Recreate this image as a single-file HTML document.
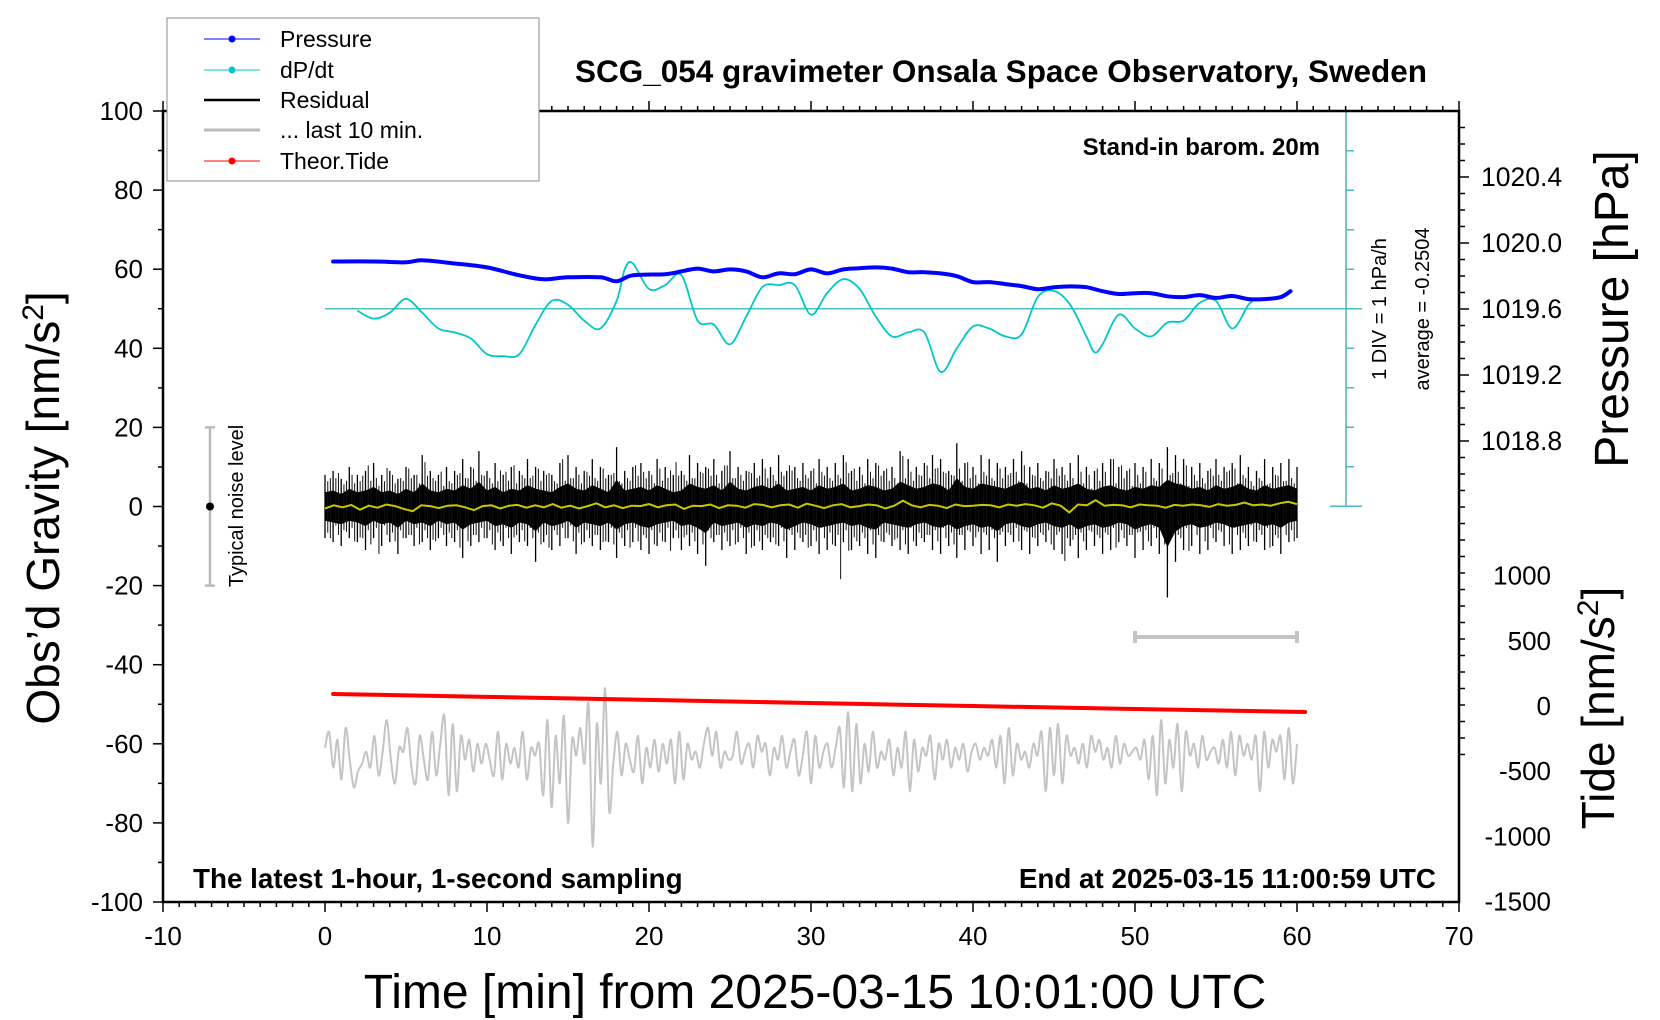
<!DOCTYPE html>
<html><head><meta charset="utf-8"><style>
html,body{margin:0;padding:0;background:#fff;}
svg{display:block;font-family:"Liberation Sans",sans-serif;}
</style></head><body>
<svg id="chart" width="1660" height="1020" viewBox="0 0 1660 1020">
<g id="marks"></g>
<g id="axes"></g>
<g id="labels">
<text x="1001" y="82" font-size="31.5" font-weight="bold" text-anchor="middle">SCG_054 gravimeter Onsala Space Observatory, Sweden</text>
<text x="1320" y="155" font-size="24" font-weight="bold" text-anchor="end">Stand-in barom. 20m</text>
<text x="193" y="888" font-size="27.8" font-weight="bold">The latest 1-hour, 1-second sampling</text>
<text x="1436" y="888" font-size="27.8" font-weight="bold" text-anchor="end">End at 2025-03-15 11:00:59 UTC</text>
<text x="815" y="1008" font-size="48" text-anchor="middle">Time [min] from 2025-03-15 10:01:00 UTC</text>
<text transform="translate(59,508) rotate(-90)" font-size="46" text-anchor="middle">Obs’d Gravity [nm/s<tspan dy="-16" font-size="30">2</tspan><tspan dy="16">]</tspan></text>
<text transform="translate(1628,309) rotate(-90)" font-size="48" text-anchor="middle">Pressure [hPa]</text>
<text transform="translate(1614,708) rotate(-90)" font-size="46" text-anchor="middle">Tide [nm/s<tspan dy="-16" font-size="30">2</tspan><tspan dy="16">]</tspan></text>
<text transform="translate(1386,309) rotate(-90)" font-size="20" text-anchor="middle">1 DIV = 1 hPa/h</text>
<text transform="translate(1429,309) rotate(-90)" font-size="20" text-anchor="middle">average = -0.2504</text>
<text transform="translate(243,506) rotate(-90)" font-size="20" text-anchor="middle">Typical noise level</text>
</g>
<g id="legend">
<rect x="167" y="18" width="372" height="163" fill="#fff" stroke="#888" stroke-width="1"/>
<g><line x1="204" y1="39" x2="260" y2="39" stroke="#0000ff" stroke-width="1"/><circle cx="232" cy="39" r="3.5" fill="#0000ff"/><text x="280" y="47" font-size="23">Pressure</text></g>
<g><line x1="204" y1="70" x2="260" y2="70" stroke="#00c8c8" stroke-width="1"/><circle cx="232" cy="70" r="3.5" fill="#00c8c8"/><text x="280" y="78" font-size="23">dP/dt</text></g>
<g><line x1="204" y1="100" x2="260" y2="100" stroke="#000" stroke-width="2.5"/><text x="280" y="108" font-size="23">Residual</text></g>
<g><line x1="204" y1="130" x2="260" y2="130" stroke="#bbb" stroke-width="3"/><text x="280" y="138" font-size="23">... last 10 min.</text></g>
<g><line x1="204" y1="161" x2="260" y2="161" stroke="#ff0000" stroke-width="1"/><circle cx="232" cy="161" r="3.5" fill="#ff0000"/><text x="280" y="169" font-size="23">Theor.Tide</text></g>
</g>
</svg>
<script>
// ---- data ----
const xTicks = [-10,0,10,20,30,40,50,60,70];
const yTicks = [100,80,60,40,20,0,-20,-40,-60,-80,-100];
const pTicks = ["1020.4","1020.0","1019.6","1019.2","1018.8"];
const tideTicks = [1000,500,0,-500,-1000,-1500];
const pressureT = [0.5,3,5,6,8,10,12,13.5,15,17,18,19,21,22,23,24,25,26,27,28,29,30,31,32,33,34,35,36,37,38,39,40,41,42,43,44,45,46,47,48,49,50,51,52,53,54,55,56,57,58,59,59.6];
const pressureV = [1019.888,1019.888,1019.883,1019.895,1019.876,1019.852,1019.804,1019.78,1019.792,1019.792,1019.768,1019.804,1019.811,1019.828,1019.845,1019.828,1019.84,1019.828,1019.792,1019.816,1019.811,1019.84,1019.816,1019.84,1019.847,1019.852,1019.845,1019.823,1019.823,1019.816,1019.799,1019.763,1019.763,1019.751,1019.739,1019.72,1019.732,1019.737,1019.732,1019.708,1019.691,1019.696,1019.696,1019.677,1019.672,1019.684,1019.667,1019.679,1019.66,1019.66,1019.672,1019.708];
const dpdtT = [2,3,4,5,6,7,8,9,10,11,12,13,14,15,16,17,18,18.5,19,20,21,22,23,24,25,26,27,28,29,30,31,32,33,34,35,36,37,38,39,40,41,42,43,44,45,46,47,47.5,48,49,50,51,52,53,54,55,56,57,57.5];
const dpdtV = [-0.05,-0.25,-0.1,0.25,-0.1,-0.5,-0.6,-0.75,-1.15,-1.2,-1.15,-0.4,0.2,0.1,-0.3,-0.5,0.2,1.0,1.15,0.5,0.6,0.85,-0.3,-0.4,-0.9,-0.2,0.55,0.6,0.6,-0.15,0.4,0.75,0.5,-0.2,-0.7,-0.6,-0.6,-1.6,-1.0,-0.45,-0.5,-0.7,-0.65,0.3,0.45,0.1,-0.7,-1.1,-0.9,-0.15,-0.5,-0.7,-0.35,-0.3,0.15,0.2,-0.5,0.1,0.25];
const residHi = [8,9,7,10,8,9,11,8,9,7,10,8,13,9,8,10,9,12,10,14,9,11,8,10,9,12,10,9,8,11,13,10,9,12,10,8,15,9,10,11,9,12,10,8,9,13,11,10,12,9,14,10,9,11,12,10,13,9,10,11,9,12,10,11,13,9,10,12,11,9,10,14,12,10,11,13,12,9,16,11,10,13,12,11,10,12,14,10,11,9,12,10,11,13,10,9,11,12,10,9,11,10,12,11,15,13,12,10,11,9,12,10,11,13,10,9,12,10,11,12,10];
const residLo = [-8,-9,-10,-8,-9,-11,-8,-10,-9,-12,-8,-10,-9,-11,-8,-10,-9,-13,-10,-9,-8,-11,-10,-12,-9,-10,-14,-9,-11,-10,-8,-12,-9,-10,-11,-9,-13,-10,-9,-11,-12,-10,-9,-8,-11,-10,-12,-15,-9,-11,-10,-9,-12,-10,-11,-9,-10,-13,-11,-9,-10,-12,-11,-10,-9,-11,-10,-12,-13,-9,-10,-11,-12,-10,-9,-11,-12,-10,-13,-11,-10,-12,-11,-14,-10,-9,-11,-12,-10,-9,-11,-12,-10,-13,-11,-10,-12,-11,-9,-10,-13,-11,-10,-12,-23,-14,-11,-10,-12,-11,-9,-10,-12,-11,-10,-9,-11,-10,-12,-9,-8];
const smoothV = [-0.5,0.3,-0.2,0.4,-0.8,0.2,-0.3,0.5,0.1,-0.6,-1.2,0.3,0.1,-0.4,0.2,0.3,-0.2,-0.9,0.1,0.3,-0.5,0.2,0.4,-0.3,0.3,-0.2,0.6,-0.3,0.2,-0.5,0.1,0.8,-0.2,0.3,-0.4,0.2,0.1,0.6,-0.2,0.3,0.5,-0.6,0.2,0.1,0.5,-0.4,0.3,0.2,-0.3,0.6,0.4,-0.2,0.3,0.5,-0.3,0.7,0.2,-0.4,0.3,0.6,-0.2,0.1,0.5,0.3,-0.5,0.2,1.5,0.3,-0.2,0.4,0.2,-0.4,0.5,0.1,0.2,0.4,0.3,-0.2,0.5,0.2,0.6,0.3,-0.3,0.8,0.2,-1.5,0.5,0.3,1.6,0.2,0.4,0.3,-0.2,0.5,0.3,0.2,-0.3,0.4,0.2,0.5,0.3,-0.1,0.6,0.2,0.4,1.0,0.3,0.5,0.2,0.8,1.2,0.6];
const last10V = [-61,-57,-66,-59,-69,-56,-64,-71,-67,-65,-62,-66,-58,-68,-62,-54,-64,-70,-61,-62,-56,-66,-70,-58,-64,-69,-57,-68,-60,-53,-73,-55,-72,-58,-64,-59,-67,-60,-65,-60,-64,-68,-57,-69,-60,-65,-61,-66,-57,-69,-61,-63,-60,-73,-54,-76,-58,-70,-53,-80,-59,-63,-56,-65,-50,-86,-55,-70,-46,-77,-65,-57,-68,-60,-64,-67,-58,-70,-61,-66,-59,-67,-60,-65,-59,-70,-57,-69,-60,-64,-62,-66,-60,-56,-63,-57,-66,-62,-64,-63,-57,-65,-62,-60,-66,-58,-62,-60,-68,-61,-64,-58,-66,-62,-59,-68,-63,-57,-70,-58,-66,-62,-60,-66,-61,-56,-71,-52,-72,-55,-70,-60,-67,-57,-66,-62,-64,-59,-68,-61,-66,-57,-72,-59,-67,-61,-63,-58,-69,-60,-64,-59,-66,-61,-64,-60,-67,-62,-60,-64,-61,-63,-59,-66,-58,-70,-56,-68,-60,-64,-62,-66,-60,-63,-57,-72,-56,-68,-55,-70,-58,-63,-61,-65,-60,-66,-58,-62,-59,-64,-61,-66,-58,-65,-60,-63,-62,-61,-64,-59,-69,-58,-73,-54,-70,-59,-66,-55,-72,-57,-63,-60,-66,-58,-64,-62,-61,-65,-59,-66,-57,-68,-58,-63,-60,-64,-58,-72,-57,-66,-59,-62,-58,-69,-56,-70,-60];
const tideT = [0.5,10,20,30,40,50,60.5];
const tideV = [92,70,47,23,0,-23,-46];

// ---- scales ----
const X0=163, X1=1459, Y0=111, Y1=902;
const xs = t => X0 + (t+10)*(X1-X0)/80;
const ys = g => Y0 + (100-g)*(Y1-Y0)/200;
const ps = p => 177 + (1020.4-p)*165;
const dps = d => ys(50) - d*39.5;
const ts = v => 706 - v*0.1304;
const CX = 1346;

const NS="http://www.w3.org/2000/svg";
const marks=document.getElementById('marks');
const axes=document.getElementById('axes');
function mk(tag,attrs,parent){const e=document.createElementNS(NS,tag);for(const k in attrs)e.setAttribute(k,attrs[k]);(parent||marks).appendChild(e);return e;}
function smooth(pts){
  let d='M'+pts[0][0].toFixed(1)+' '+pts[0][1].toFixed(1);
  for(let i=0;i<pts.length-1;i++){
    const p0=pts[Math.max(0,i-1)],p1=pts[i],p2=pts[i+1],p3=pts[Math.min(pts.length-1,i+2)];
    const c1x=p1[0]+(p2[0]-p0[0])/6,c1y=p1[1]+(p2[1]-p0[1])/6;
    const c2x=p2[0]-(p3[0]-p1[0])/6,c2y=p2[1]-(p3[1]-p1[1])/6;
    d+='C'+c1x.toFixed(1)+' '+c1y.toFixed(1)+' '+c2x.toFixed(1)+' '+c2y.toFixed(1)+' '+p2[0].toFixed(1)+' '+p2[1].toFixed(1);
  }
  return d;
}

// dP/dt reference line and axis
let el=mk('line',{x1:xs(0),y1:dps(0),x2:CX+16,y2:dps(0),stroke:'#4cc0c0','stroke-width':1.5});


el=mk('line',{x1:CX,y1:Y0,x2:CX,y2:ys(0),stroke:'#4cb8b8','stroke-width':1.5});


for(let k=-5;k<=5;k++){
  const end=(k===-5||k===5);
  el=mk('line',{x1:CX-(end?16:0),y1:dps(k),x2:CX+(end?16:8),y2:dps(k),stroke:'#4cb8b8','stroke-width':1.5});
  
  
}

// grey last 10 min
el=mk('path',{d:smooth(last10V.map((v,i)=>[xs(i*60/(last10V.length-1)),ys(v)])),fill:'none',stroke:'#c4c4c4','stroke-width':2});



// residual core band + spikes
const rg=mk('g',{});


let up='',dn='';
residHi.forEach((v,i)=>{const t=i*60/(residHi.length-1);up+=(i?'L':'M')+xs(t).toFixed(1)+' '+ys(v*0.45).toFixed(1);});
for(let i=residLo.length-1;i>=0;i--){const t=i*60/(residLo.length-1);dn+='L'+xs(t).toFixed(1)+' '+ys(residLo[i]*0.45).toFixed(1);}
mk('path',{d:up+dn+'Z',fill:'#000'},rg);
const nH=residHi.length;
residHi.forEach((v,i)=>{
  const t=i*60/(nH-1);
  const lo=residLo[Math.min(i,residLo.length-1)];
  const vn=residHi[(i+7)%nH], ln=residLo[(i+13)%residLo.length];
  mk('line',{x1:xs(t),y1:ys(v),x2:xs(t),y2:ys(lo),stroke:'#000','stroke-width':1.3},rg);
  const t2=t+0.17; if(t2<=60){mk('line',{x1:xs(t2),y1:ys(vn*0.8),x2:xs(t2),y2:ys(ln*0.6),stroke:'#111','stroke-width':1},rg);}
  const t3=t+0.33; if(t3<=60){mk('line',{x1:xs(t3),y1:ys(residHi[(i+29)%nH]*0.65),x2:xs(t3),y2:ys(residLo[(i+41)%residLo.length]*0.8),stroke:'#111','stroke-width':1},rg);}
});
// smoothed
let d='';
smoothV.forEach((v,i)=>{const t=i*60/(smoothV.length-1);d+=(i?'L':'M')+xs(t).toFixed(1)+' '+ys(v).toFixed(1);});
el=mk('path',{d:d,fill:'none',stroke:'#c8c800','stroke-width':2});



// dP/dt curve
el=mk('path',{d:smooth(dpdtT.map((t,i)=>[xs(t),dps(dpdtV[i])])),fill:'none',stroke:'#00c8c8','stroke-width':1.8,'stroke-linejoin':'round'});



// pressure
el=mk('path',{d:smooth(pressureT.map((t,i)=>[xs(t),ps(pressureV[i])])),fill:'none',stroke:'#0000ff','stroke-width':4,'stroke-linejoin':'round','stroke-linecap':'round'});



// tide
d='';
tideT.forEach((t,i)=>{d+=(i?'L':'M')+xs(t).toFixed(1)+' '+ts(tideV[i]).toFixed(1);});
el=mk('path',{d:d,fill:'none',stroke:'#ff0000','stroke-width':4,'stroke-linecap':'round'});



// 10-min scale bar
el=mk('path',{d:`M${xs(50)} ${ys(-33)}L${xs(60)} ${ys(-33)}M${xs(50)} ${ys(-33)-6}V${ys(-33)+6}M${xs(60)} ${ys(-33)-6}V${ys(-33)+6}`,stroke:'#c4c4c4','stroke-width':4,fill:'none'});


// noise level bar
el=mk('path',{d:`M${xs(-7.1)} ${ys(20)}V${ys(-20)}M${xs(-7.1)-5} ${ys(20)}h10M${xs(-7.1)-5} ${ys(-20)}h10`,stroke:'#bbb','stroke-width':2.5,fill:'none'});


el=mk('circle',{cx:xs(-7.1),cy:ys(0),r:4,fill:'#000'});



// ---- axes ----
el=mk('rect',{x:X0,y:Y0,width:X1-X0,height:Y1-Y0,fill:'none',stroke:'#000','stroke-width':2.5},axes);


for(let t=-10;t<=70;t++){
  const major=(t%10===0), L=major?10:5;
  mk('line',{x1:xs(t),y1:Y1,x2:xs(t),y2:Y1+L,stroke:'#000','stroke-width':1.5},axes);
  mk('line',{x1:xs(t),y1:Y0,x2:xs(t),y2:Y0-L,stroke:'#000','stroke-width':1.5},axes);
}
xTicks.forEach(t=>{el=mk('text',{x:xs(t),y:945,'font-size':26,'text-anchor':'middle'},axes);el.textContent=t;

});
for(let g=-100;g<=100;g+=10){
  const L=(g%20===0)?10:5;
  mk('line',{x1:X0,y1:ys(g),x2:X0-L,y2:ys(g),stroke:'#000','stroke-width':1.5},axes);
}
yTicks.forEach(g=>{el=mk('text',{x:143,y:ys(g)+9,'font-size':26,'text-anchor':'end'},axes);el.textContent=g;

});
// right pressure ticks
for(let k=-3;k<=38;k++){
  const y=ps(1020.7-0.1*k);
  if(y<Y0||y>Y1)continue;
  const major=((k-3)%4===0)&&k>=3&&k<=19;
  mk('line',{x1:X1,y1:y,x2:X1+(major?10:6),y2:y,stroke:'#000','stroke-width':1.5},axes);
}
pTicks.forEach(p=>{el=mk('text',{x:1481,y:ps(parseFloat(p))+9,'font-size':26.5},axes);el.textContent=p;

});
tideTicks.forEach(v=>{el=mk('text',{x:1551,y:ts(v)+9,'font-size':26},axes);el.setAttribute('text-anchor','end');el.textContent=v;

});
</script>
</body></html>
